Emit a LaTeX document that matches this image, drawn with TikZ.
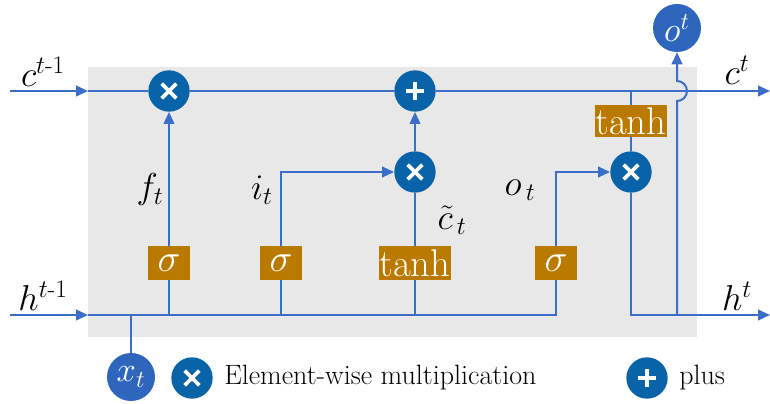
\RequirePackage{fix-cm}
\documentclass[tikz,border=0pt]{standalone}
\usepackage{amsmath}
\usetikzlibrary{arrows.meta}
\definecolor{lineblue}{RGB}{58,110,200}
\definecolor{opblue}{RGB}{8,99,168}
\definecolor{ioblue}{RGB}{46,102,190}
\definecolor{gatebrown}{RGB}{186,122,0}
\definecolor{cellgray}{RGB}{232,232,232}
\tikzset{
  wire/.style={lineblue,line width=1.5pt},
  arr/.style={wire,-{Triangle[length=9pt,width=8pt]}},
  opcirc/.style={circle,fill=opblue,minimum size=31pt,inner sep=0pt},
  mulop/.style={opcirc,path picture={
    \draw[white,line width=2.8pt] ([shift={(-5.5pt,-5.5pt)}]path picture bounding box.center) -- ([shift={(5.5pt,5.5pt)}]path picture bounding box.center);
    \draw[white,line width=2.8pt] ([shift={(-5.5pt,5.5pt)}]path picture bounding box.center) -- ([shift={(5.5pt,-5.5pt)}]path picture bounding box.center);}},
  addop/.style={opcirc,path picture={
    \draw[white,line width=2.8pt] ([xshift=-7pt]path picture bounding box.center) -- ([xshift=7pt]path picture bounding box.center);
    \draw[white,line width=2.8pt] ([yshift=-7pt]path picture bounding box.center) -- ([yshift=7pt]path picture bounding box.center);}},
  gate/.style={fill=gatebrown,text=white,minimum width=31.5pt,minimum height=25.5pt,inner sep=0pt,font=\fontsize{29}{30}\selectfont},
  iocirc/.style={circle,fill=ioblue,text=white,minimum size=36pt,inner sep=0pt,font=\fontsize{26}{26}\selectfont},
  lbl/.style={inner sep=1pt,font=\fontsize{27}{30}\selectfont},
  keytxt/.style={font=\fontsize{21}{24}\selectfont,inner sep=0pt}
}
\begin{document}
\begin{tikzpicture}[x=0.75pt,y=0.75pt]
  \useasboundingbox (0,0) rectangle (770,403);
  \fill[cellgray] (88,66) rectangle (697,336);
  % operations and gates
  \node[mulop] (fmul) at (169,312) {};
  \node[addop] (add) at (415,312) {};
  \node[mulop] (imul) at (415,231) {};
  \node[mulop] (omul) at (631,231) {};
  \node[gate] (fsig) at (169,140) {$\sigma$};
  \node[gate] (isig) at (281,140) {$\sigma$};
  \node[gate,minimum width=54pt] (ctanh) at (415,140) {tanh};
  \node[gate] (osig) at (556,140) {$\sigma$};
  \node[gate,minimum width=54pt,minimum height=24pt] (otanh) at (631,282) {tanh};
  \node[iocirc] (xt) at (131,26) {$x_t$};
  \node[iocirc] (ot) at (677,375) {$o^t$};
  \coordinate (cin) at (10,312);
  \coordinate (cbox) at (88,312);
  \coordinate (cout) at (770,312);
  \coordinate (hin) at (10,88);
  \coordinate (hbox) at (88,88);
  \coordinate (hend) at (556,88);
  \coordinate (ojoin) at (631,88);
  \coordinate (hop) at (677,88);
  \coordinate (hout) at (770,88);
  % cell state
  \draw[arr] (cin) -- (cbox);
  \draw[wire] (cbox) -- (fmul);
  \draw[wire] (fmul) -- (add);
  \draw[arr] (add) -- (cout);
  % hidden state
  \draw[arr] (hin) -- (hbox);
  \draw[wire] (hbox) -- (hend) -- (osig);
  \draw[wire] (xt) -- (xt |- hbox);
  \draw[wire] (fsig |- hbox) -- (fsig);
  \draw[arr] (fsig) -- (fmul);
  \draw[wire] (isig |- hbox) -- (isig);
  \draw[arr] (isig.north) |- (imul);
  \draw[wire] (ctanh |- hbox) -- (ctanh);
  \draw[wire] (ctanh) -- (imul);
  \draw[arr] (imul) -- (add);
  \draw[arr] (osig.north) |- (omul);
  \draw[wire] (otanh |- cout) -- (otanh);
  \draw[wire] (otanh) -- (omul);
  \draw[arr] (omul) -- (ojoin) -- (hout);
  \draw[arr] (hop) -- ++(0,214) arc[start angle=-90,end angle=90,radius=7.5pt] -- (ot);
  % labels
  \node[lbl] (cprev) at (43,331) {$c^{t\text{-}1}$};
  \node[lbl] (cnext) at (737,333) {$c^{t}$};
  \node[lbl] (hprev) at (43,107) {$h^{t\text{-}1}$};
  \node[lbl] (hnext) at (737,107) {$h^{t}$};
  \node[lbl] (flbl) at (150,213) {$f_{t}$};
  \node[lbl] (ilbl) at (262,213) {$i_{t}$};
  \node[lbl] (clbl) at (452,183) {$\tilde{c}_{\,t}$};
  \node[lbl] (olbl) at (520,213) {$o_{\,t}$};
  % legend
  \node[mulop] (keymul) at (192,25) {};
  \node[keytxt,anchor=west] (keymultxt) at (224,25) {Element-wise multiplication};
  \node[addop] (keyadd) at (647,25) {};
  \node[keytxt,anchor=west] (keyaddtxt) at (679,25) {plus};
\end{tikzpicture}
\end{document}
